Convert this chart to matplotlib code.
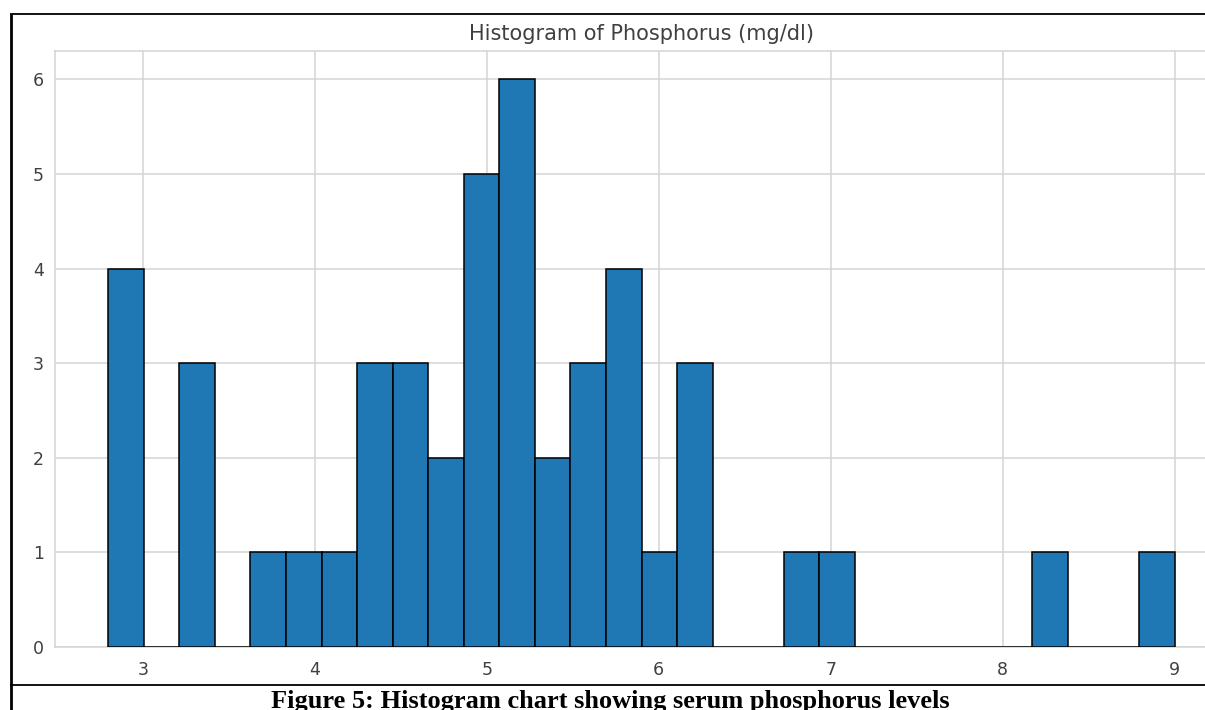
import numpy as np
from matplotlib import pyplot as plt
from matplotlib.lines import Line2D

# phosphorus histogram: 30 equal bins between the min and max value
p_min, p_max = 2.8, 9.0
n_bins = 30
counts = [4, 0, 3, 0, 1, 1, 1, 3, 3, 2,
          5, 6, 2, 3, 4, 1, 3, 0, 0, 1,
          1, 0, 0, 0, 0, 0, 1, 0, 0, 1]
x_ticks = [3, 4, 5, 6, 7, 8, 9]
y_ticks = [0, 1, 2, 3, 4, 5, 6]

title = 'Histogram of Phosphorus (mg/dl)'
caption = 'Figure 5: Histogram chart showing serum phosphorus levels'

edges = np.linspace(p_min, p_max, n_bins + 1)

W, H = 1205, 710
fig = plt.figure(figsize=(W/100, H/100), dpi=100)
fig.patch.set_facecolor('white')

# axes runs past the right edge of the figure
ax = fig.add_axes([55/W, (H-647)/H, (1228-55)/W, (647-51)/H])
ax.hist(edges[:-1], bins=edges, weights=counts, color='#1f77b4',
        edgecolor='black', linewidth=1.1, zorder=3)

ax.set_xticks(x_ticks)
ax.set_yticks(y_ticks)
ax.grid(True, color='#d4d4d4', linewidth=1.1, zorder=0)
ax.set_axisbelow(True)
for s in ax.spines.values():
    s.set_color('#d4d4d4')
    s.set_linewidth(1.1)
ax.tick_params(length=0, pad=10, labelsize=12.5, colors='#404040')
ax.tick_params(axis='y', pad=8)
ax.set_title(title, fontsize=15, color='#404040', pad=8)

# page frame around the figure
frame = dict(color='black', transform=fig.transFigure, solid_capstyle='butt')
fig.add_artist(Line2D([10.5/W, 10.5/W], [0, 1 - 14/H], linewidth=2.0, **frame))
fig.add_artist(Line2D([10/W, 1], [1 - 14/H, 1 - 14/H], linewidth=1.3, **frame))
fig.add_artist(Line2D([10/W, 1], [1 - 685/H, 1 - 685/H], linewidth=1.3, **frame))

fig.text(610/W, 2/H, caption, ha='center', va='baseline',
         fontsize=19, fontweight='bold', family='Liberation Serif')

fig.savefig('out.png', dpi=100)
